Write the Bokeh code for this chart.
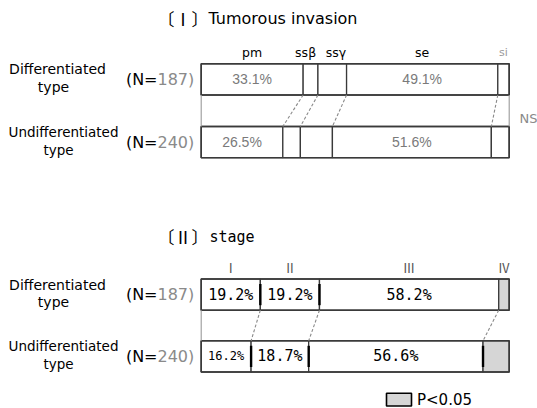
import numpy as np
from bokeh.plotting import figure
from bokeh.models import Range1d, ColumnDataSource
from bokeh.core.properties import value
from bokeh.embed import file_html
from bokeh.resources import INLINE

# ---------------- data ----------------
groups = ["Differentiated", "Undifferentiated"]
group_n = [187, 240]

invasion_cats = ["pm", "ssβ", "ssγ", "se", "si"]
invasion_diff = [33.1, 4.8, 9.3, 49.1, 3.7]
invasion_undiff = [26.5, 5.7, 10.4, 51.6, 5.8]
invasion_labels = [True, False, False, True, False]

stage_cats = ["Ⅰ", "Ⅱ", "Ⅲ", "Ⅳ"]
stage_diff = [19.2, 19.2, 58.2, 3.4]
stage_undiff = [16.2, 18.7, 56.6, 8.5]
stage_labels = [True, True, True, False]
stage_signif = [False, False, False, True]

# ---------------- layout helpers ----------------
X0, W = 200.7, 308.0          # pixel position of 0% and width of 100%
def px(xp):                    # page pixel -> percent axis
    return (xp - X0) / W * 100.0

p = figure(width=537, height=408, output_backend="svg", toolbar_location=None,
           x_range=Range1d(px(0), px(537)), y_range=Range1d(408, 0),
           min_border=0)
p.axis.visible = False
p.grid.visible = False
p.outline_line_color = None
p.background_fill_color = "white"

SANS = value("DejaVu Sans")
MONO = value("DejaVu Sans Mono")
CJK = value("Noto Sans CJK JP")
EDGE = "#3a3a3a"


def text(x, y, t, size, color="black", font=SANS, align="center", style="normal"):
    p.text(x=[x], y=[y], text=[t], text_font=font, text_font_size=f"{size}px",
           text_color=color, text_align=align, text_baseline="middle",
           text_font_style=style)


def draw_part(rows, labels, y_rows, row_h, pct_style, signif=None, thick=False):
    bounds = []
    for r, (vals, ytop) in enumerate(zip(rows, y_rows)):
        v = np.array(vals, dtype=float)
        right = np.cumsum(v)
        left = right - v
        bounds.append(right[:-1])
        fills = ["white"] * len(v)
        if signif is not None:
            fills = ["#d6d6d6" if s else "white" for s in signif]
        src = ColumnDataSource(dict(left=left, right=right,
                                    top=[ytop] * len(v), bottom=[ytop + row_h] * len(v),
                                    fill=fills))
        p.quad(left="left", right="right", top="top", bottom="bottom", source=src,
               fill_color="fill", line_color=EDGE, line_width=1.3)
        p.quad(left=[0], right=[100], top=[ytop], bottom=[ytop + row_h],
               fill_color=None, line_color=EDGE, line_width=1.6)
        yc = ytop + row_h / 2
        for i, (l, rr) in enumerate(zip(left, right)):
            if labels[i]:
                size, color, font = pct_style
                if thick and v[i] < 17:
                    size = size - 3
                text((l + rr) / 2, yc, f"{v[i]:.1f}%", size, color, font)
        if thick:
            marks = right[:-1] if r == 1 else right[:-2]
            p.segment(x0=marks, x1=marks, y0=[ytop + 5] * len(marks),
                      y1=[ytop + row_h - 5] * len(marks), line_color="black",
                      line_width=2.4)
    v0 = np.array(rows[0], dtype=float)
    c0 = np.cumsum(v0) - v0 / 2
    return bounds, c0


def connectors(bounds, y_from, y_to):
    b0, b1 = bounds
    p.segment(x0=b0, x1=b1, y0=[y_from] * len(b0), y1=[y_to] * len(b1),
              line_color="#8a8a8a", line_width=1.1, line_dash="3 2")


row_h = 31.2

# ---------------- Part I ----------------
text(px(157), 18, "〔Ⅰ〕", 17, font=CJK, align="left")
text(px(208), 18, "Tumorous invasion", 16, align="left")

yI = [63.3, 126.0]
bounds, c0 = draw_part([invasion_diff, invasion_undiff], invasion_labels, yI, row_h,
                       (14, "#7a7a7a", value("Liberation Sans")))
connectors([bounds[0][:4], bounds[1][:4]], yI[0] + row_h, yI[1])
p.segment(x0=[0, 100], x1=[0, 100], y0=[yI[0] + row_h] * 2, y1=[yI[1]] * 2,
          line_color="#9a9a9a", line_width=1.1)
nudge = {"ssβ": -1.6, "ssγ": 1.2}
for i, c in enumerate(invasion_cats):
    col = "#9a9a9a" if c == "si" else "black"
    size = 11 if c == "si" else 12.5
    text(c0[i] + nudge.get(c, 0), yI[0] - 11.5, c, size, col)
text(px(519), 118.3, "NS", 13, "#8a8a8a", align="left")

# ---------------- Part II ----------------
text(px(157), 236, "〔Ⅱ〕", 17, font=CJK, align="left")
text(px(209), 236, "stage", 15, font=MONO, align="left")

yII = [278.5, 340.3]
bounds2, c2 = draw_part([stage_diff, stage_undiff], stage_labels, yII, row_h,
                        (15, "black", MONO), signif=stage_signif, thick=True)
connectors([bounds2[0][:3], bounds2[1][:3]], yII[0] + row_h, yII[1])
p.segment(x0=[0], x1=[0], y0=[yII[0] + row_h], y1=[yII[1]],
          line_color="#9a9a9a", line_width=1.1)
for i, c in enumerate(stage_cats):
    text(c2[i], yII[0] - 11.5, c, 12.5, "#555555", font=CJK)

# ---------------- row labels ----------------
for ys in (yI, yII):
    for g, n, yt in zip(groups, group_n, ys):
        yc = yt + row_h / 2
        size = 14 if g == "Differentiated" else 13.5
        text(px(57 if g == "Differentiated" else 63), yc - 10, g, size)
        text(px(53 if g == "Differentiated" else 58), yc + 7.5, "type", size)
        text(px(157), yc, "(N=", 16, "black", align="right")
        text(px(157), yc, f"{n})", 16, "#8a8a8a", align="left")

# ---------------- legend ----------------
p.quad(left=[px(386)], right=[px(411)], top=[392.7], bottom=[405.5],
       fill_color="#d6d6d6", line_color="black", line_width=1.6)
text(px(416.5), 399.3, "P<0.05", 15, align="left")

open("out.html", "w").write(file_html(p, INLINE))
